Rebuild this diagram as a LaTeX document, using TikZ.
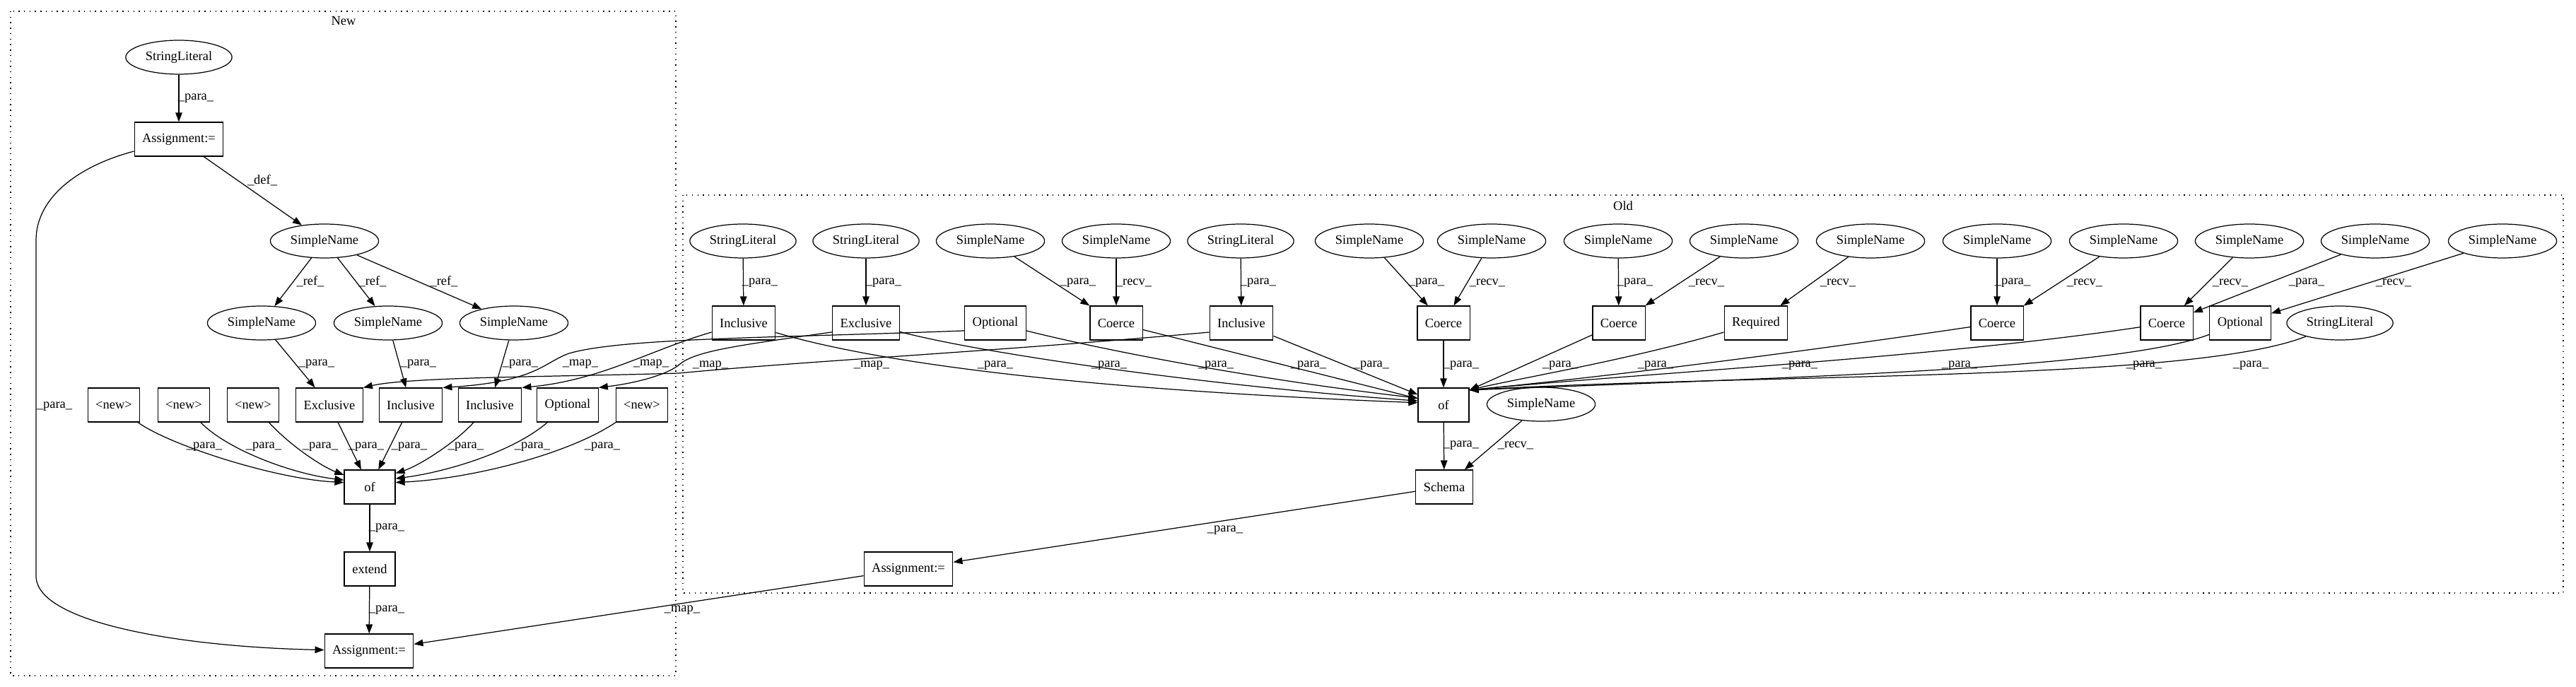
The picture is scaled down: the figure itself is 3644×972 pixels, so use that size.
\documentclass[tikz,border=0pt]{standalone}
\usepackage{fontspec}
\setmainfont{Liberation Serif}
\usetikzlibrary{arrows.meta,shapes.geometric}

\begin{document}
\begin{tikzpicture}[
    x=0.02cm, y=-0.02cm,
    font=\fontsize{10.5}{12}\selectfont,
    ast/.style={ellipse, draw=black, line width=0.7pt, inner xsep=0.12cm, inner ysep=0pt, minimum height=0.96cm},
    stmt/.style={rectangle, draw=black, line width=0.7pt, inner xsep=0.22cm, inner ysep=0pt, minimum width=1.44cm, minimum height=0.96cm},
    rel/.style={line width=0.7pt, -{Triangle[length=0.26cm, width=0.19cm]}},
    lbl/.style={inner sep=0pt},
    cluster/.style={line width=0.7pt, dash pattern=on 0.8pt off 3.6pt}
  ]
    \useasboundingbox (0,0) rectangle (3644,972);
    % clusters
    \draw[cluster] (15,16) rectangle (956,956);
    \node[lbl] (newtitle) at (486,30) {New};
    \draw[cluster] (966,276) rectangle (3626,839);
    \node[lbl] (oldtitle) at (2296,291) {Old};

    % New
    \node[ast]  (slN)   at (253,81)  {StringLiteral};
    \node[stmt] (asgA)  at (253,197) {Assignment:=};
    \node[ast]  (snDef) at (459,341) {SimpleName};
    \node[ast]  (snA)   at (370,457) {SimpleName};
    \node[ast]  (snB)   at (549,457) {SimpleName};
    \node[ast]  (snC)   at (727,457) {SimpleName};
    \node[stmt] (nwA)   at (161,573) {<new>};
    \node[stmt] (nwB)   at (260,573) {<new>};
    \node[stmt] (nwC)   at (358,573) {<new>};
    \node[stmt] (exN)   at (466,573) {Exclusive};
    \node[stmt] (inA)   at (581,573) {Inclusive};
    \node[stmt] (inB)   at (693,573) {Inclusive};
    \node[stmt] (opN)   at (803,573) {Optional};
    \node[stmt] (nwD)   at (908,573) {<new>};
    \node[stmt] (ofN)   at (523,689) {of};
    \node[stmt] (extN)  at (523,805) {extend};
    \node[stmt] (asgN)  at (522,921) {Assignment:=};

    \draw[rel] (slN) -- (asgA) node[lbl] at (277,139) {\_para\_};
    \draw[rel] (asgA) -- (snDef) node[lbl] at (371,255) {\_def\_};
    \draw[rel] (asgA.195) .. controls (110,235) and (51,280) .. (51,340) -- (51,815)
      .. controls (51,880) and (250,915) .. (asgN) node[lbl] at (77,575) {\_para\_};
    \draw[rel] (snDef) -- (snA) node[lbl] at (439,398) {\_ref\_};
    \draw[rel] (snDef) -- (snB) node[lbl] at (527,398) {\_ref\_};
    \draw[rel] (snDef) -- (snC) node[lbl] at (628,398) {\_ref\_};
    \draw[rel] (snA) -- (exN) node[lbl] at (448,515) {\_para\_};
    \draw[rel] (snB) -- (inA) node[lbl] at (592,515) {\_para\_};
    \draw[rel] (snC) -- (inB) node[lbl] at (736,515) {\_para\_};
    \draw[rel] (nwA) .. controls (240,630) and (390,678) .. (ofN.170) node[lbl] at (289,632) {\_para\_};
    \draw[rel] (nwB) .. controls (320,635) and (410,670) .. (ofN.165) node[lbl] at (373,632) {\_para\_};
    \draw[rel] (nwC) .. controls (410,630) and (455,660) .. (ofN.155) node[lbl] at (453,632) {\_para\_};
    \draw[rel] (exN) -- (ofN) node[lbl] at (518,632) {\_para\_};
    \draw[rel] (inA) -- (ofN) node[lbl] at (579,632) {\_para\_};
    \draw[rel] (inB) .. controls (640,630) and (590,660) .. (ofN.28) node[lbl] at (659,632) {\_para\_};
    \draw[rel] (opN) .. controls (725,640) and (630,668) .. (ofN.18) node[lbl] at (753,632) {\_para\_};
    \draw[rel] (nwD) .. controls (800,645) and (660,678) .. (ofN.10) node[lbl] at (852,632) {\_para\_};
    \draw[rel] (ofN) -- (extN) node[lbl] at (547,747) {\_para\_};
    \draw[rel] (extN) -- (asgN) node[lbl] at (547,863) {\_para\_};

    % Old
    \node[ast]  (slO1)  at (1051,341) {StringLiteral};
    \node[ast]  (slO2)  at (1225,341) {StringLiteral};
    \node[ast]  (snO1)  at (1401,341) {SimpleName};
    \node[ast]  (snO2)  at (1579,341) {SimpleName};
    \node[ast]  (slO3)  at (1755,341) {StringLiteral};
    \node[ast]  (snO3)  at (1937,341) {SimpleName};
    \node[ast]  (snO4)  at (2110,341) {SimpleName};
    \node[ast]  (snO5)  at (2289,341) {SimpleName};
    \node[ast]  (snO6)  at (2467,341) {SimpleName};
    \node[ast]  (snO7)  at (2646,341) {SimpleName};
    \node[ast]  (snO8)  at (2825,341) {SimpleName};
    \node[ast]  (snO9)  at (3004,341) {SimpleName};
    \node[ast]  (snO10) at (3182,341) {SimpleName};
    \node[ast]  (snO11) at (3360,341) {SimpleName};
    \node[ast]  (snO12) at (3540,341) {SimpleName};
    \node[stmt] (inO1)  at (1052,457) {Inclusive};
    \node[stmt] (exO)   at (1225,457) {Exclusive};
    \node[stmt] (opO1)  at (1408,457) {Optional};
    \node[stmt] (coO1)  at (1579,457) {Coerce};
    \node[stmt] (inO2)  at (1756,457) {Inclusive};
    \node[stmt] (coO2)  at (2042,457) {Coerce};
    \node[stmt] (coO3)  at (2290,457) {Coerce};
    \node[stmt] (reqO)  at (2484,457) {Required};
    \node[stmt] (coO4)  at (2825,457) {Coerce};
    \node[stmt] (coO5)  at (3065,457) {Coerce};
    \node[stmt] (opO2)  at (3169,457) {Optional};
    \node[ast]  (slO4)  at (3310,457) {StringLiteral};
    \node[stmt] (ofO)   at (2042,573) {of};
    \node[ast]  (snS)   at (2180,572) {SimpleName};
    \node[stmt] (schO)  at (2043,689) {Schema};
    \node[stmt] (asgO)  at (1285,805) {Assignment:=};

    \draw[rel] (slO1) -- (inO1) node[lbl] at (1075,400) {\_para\_};
    \draw[rel] (slO2) -- (exO) node[lbl] at (1250,400) {\_para\_};
    \draw[rel] (snO1) -- (coO1) node[lbl] at (1525,400) {\_para\_};
    \draw[rel] (snO2) -- (coO1) node[lbl] at (1604,400) {\_recv\_};
    \draw[rel] (slO3) -- (inO2) node[lbl] at (1780,400) {\_para\_};
    \draw[rel] (snO3) -- (coO2) node[lbl] at (2018,400) {\_para\_};
    \draw[rel] (snO4) -- (coO2) node[lbl] at (2104,400) {\_recv\_};
    \draw[rel] (snO5) -- (coO3) node[lbl] at (2313,400) {\_para\_};
    \draw[rel] (snO6) -- (coO3) node[lbl] at (2414,400) {\_recv\_};
    \draw[rel] (snO7) -- (reqO) node[lbl] at (2600,400) {\_recv\_};
    \draw[rel] (snO8) -- (coO4) node[lbl] at (2847,400) {\_para\_};
    \draw[rel] (snO9) -- (coO4) node[lbl] at (2949,400) {\_recv\_};
    \draw[rel] (snO10) -- (coO5) node[lbl] at (3155,400) {\_recv\_};
    \draw[rel] (snO11) -- (coO5) node[lbl] at (3263,400) {\_para\_};
    \draw[rel] (snO12) -- (opO2) node[lbl] at (3386,400) {\_recv\_};

    \draw[rel] (inO1) .. controls (1230,510) and (1500,550) .. (ofO.175) node[lbl] at (1408,517) {\_para\_};
    \draw[rel] (exO) .. controls (1390,500) and (1700,545) .. (ofO.171) node[lbl] at (1569,517) {\_para\_};
    \draw[rel] (opO1) .. controls (1580,500) and (1800,540) .. (ofO.165) node[lbl] at (1720,517) {\_para\_};
    \draw[rel] (coO1) -- (ofO) node[lbl] at (1851,517) {\_para\_};
    \draw[rel] (inO2) -- (ofO) node[lbl] at (1940,517) {\_para\_};
    \draw[rel] (coO2) -- (ofO) node[lbl] at (2067,517) {\_para\_};
    \draw[rel] (coO3) -- (ofO.30) node[lbl] at (2207,517) {\_para\_};
    \draw[rel] (reqO) .. controls (2300,510) and (2150,535) .. (ofO.30) node[lbl] at (2342,517) {\_para\_};
    \draw[rel] (coO4) .. controls (2500,505) and (2250,535) .. (ofO.30) node[lbl] at (2546,517) {\_para\_};
    \draw[rel] (coO5) .. controls (2750,505) and (2300,530) .. (ofO.30) node[lbl] at (2772,517) {\_para\_};
    \draw[rel] (opO2) .. controls (3000,520) and (2600,532) .. (ofO.30) node[lbl] at (3033,517) {\_para\_};
    \draw[rel] (slO4) .. controls (3100,540) and (2500,528) .. (ofO.30) node[lbl] at (3184,517) {\_para\_};

    \draw[rel] (ofO) -- (schO) node[lbl] at (2067,630) {\_para\_};
    \draw[rel] (snS) -- (schO) node[lbl] at (2144,630) {\_recv\_};
    \draw[rel] (schO) -- (asgO) node[lbl] at (1733,750) {\_para\_};

    % mappings between the two
    \draw[rel] (inO1.196) .. controls (920,495) and (850,538) .. (inB.north east) node[lbl] at (921,515) {\_map\_};
    \draw[rel] (opO1.194) .. controls (1100,478) and (880,478) .. (805,500)
      .. controls (770,512) and (760,540) .. (inA.north east) node[lbl] at (821,515) {\_map\_};
    \draw[rel] (exO.195) .. controls (1050,488) and (985,496) .. (962,515)
      .. controls (945,530) and (900,542) .. (opN.north east) node[lbl] at (1005,517) {\_map\_};
    \draw[rel] (inO2.196) .. controls (1400,498) and (1150,510) .. (960,528)
      .. controls (800,533) and (580,533) .. (exN.north east) node[lbl] at (1233,517) {\_map\_};
    \draw[rel] (asgO) -- (asgN) node[lbl] at (965,863) {\_map\_};
  \end{tikzpicture}
\end{document}
